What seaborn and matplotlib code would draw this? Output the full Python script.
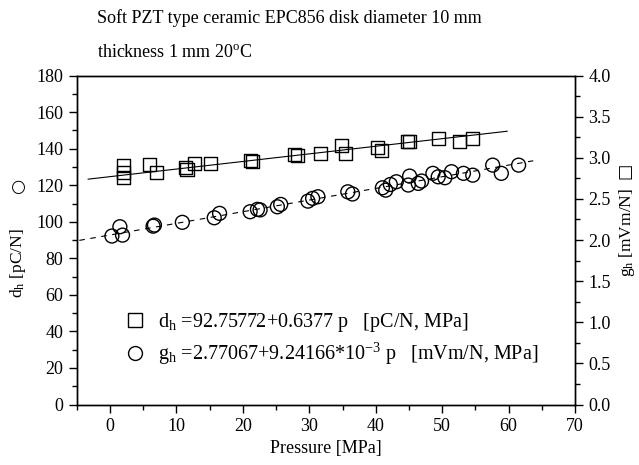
import numpy as np
import pandas as pd
import matplotlib
matplotlib.use("Agg")
import matplotlib.pyplot as plt
from matplotlib.lines import Line2D
from matplotlib.ticker import MultipleLocator
import seaborn as sns

# ---- data ----
# g_h (squares, right axis)
sq_p = [2.1, 2.1, 2.0, 6.0, 7.0, 11.4, 11.6, 12.8, 15.2, 21.2, 21.5, 27.8, 28.2,
        31.7, 34.8, 35.5, 40.2, 40.8, 44.8, 45.1, 49.5, 52.6, 54.5]
sq_g = [2.909, 2.760, 2.816, 2.920, 2.816, 2.880, 2.860, 2.936, 2.929, 2.969, 2.960,
        3.038, 3.030, 3.051, 3.151, 3.058, 3.131, 3.091, 3.200, 3.195, 3.240, 3.200, 3.240]
# d_h (circles, left axis)
ci_p = [0.3, 1.5, 1.9, 6.5, 6.7, 10.9, 15.7, 16.5, 21.1, 22.2, 22.6, 25.2, 25.7,
        29.8, 30.5, 31.3, 35.8, 36.5, 41.0, 41.5, 42.2, 43.1, 44.9, 45.1, 46.4, 46.9,
        48.6, 49.4, 50.4, 51.4, 53.2, 54.6, 57.6, 58.9, 61.5]
ci_d = [92.2, 97.3, 92.7, 97.6, 98.2, 99.7, 102.2, 104.6, 105.5, 106.8, 106.5, 108.2,
        109.5, 111.3, 112.8, 113.7, 116.4, 115.2, 118.6, 117.3, 120.4, 121.9, 120.1,
        125.0, 121.0, 122.3, 126.5, 124.6, 124.1, 127.4, 126.5, 125.5, 131.0, 126.5, 131.0]
# fit coefficients (from the legend) and drawn ranges
dh_a, dh_b = 92.75772, 0.6377
gh_a, gh_b = 2.77067, 9.24166e-3
dh_range = [-4.6, 63.7]
gh_range = [-3.3, 59.8]

title1 = "Soft PZT type ceramic EPC856 disk diameter 10 mm"
title2 = "thickness 1 mm 20$\\mathregular{^o}$C"
leg1 = "$\\mathregular{d_h}$ =92.75772+0.6377 p   [pC/N, MPa]"
leg2 = "$\\mathregular{g_h}$ =2.77067+9.24166*10$\\mathregular{^{-3}}$ p   [mVm/N, MPa]"

sns.set_theme(style="ticks")
plt.rcParams["font.family"] = ["Liberation Serif", "DejaVu Sans"]
plt.rcParams["mathtext.fontset"] = "custom"
plt.rcParams["mathtext.rm"] = "Liberation Serif"
plt.rcParams["text.color"] = "black"
plt.rcParams["axes.labelcolor"] = "black"
FS = 12.5

fig = plt.figure(figsize=(6.39, 4.65), dpi=100)
ax = fig.add_axes([0.120, 0.130, 0.780, 0.7075])
ax2 = ax.twinx()

df_c = pd.DataFrame({"p": ci_p, "d": ci_d})
df_s = pd.DataFrame({"p": sq_p, "g": sq_g})

sns.scatterplot(data=df_c, x="p", y="d", ax=ax, marker="o", s=100,
                facecolor="none", edgecolor="black", linewidth=1.0, zorder=3)
sns.scatterplot(data=df_s, x="p", y="g", ax=ax2, marker="s", s=88,
                facecolor="none", edgecolor="black", linewidth=1.0, zorder=3)

xd = np.array(dh_range)
sns.lineplot(x=xd, y=dh_a + dh_b * xd, ax=ax, color="black", linewidth=0.8,
             dashes=False, linestyle=(0, (5, 5)))
xg = np.array(gh_range)
sns.lineplot(x=xg, y=gh_a + gh_b * xg, ax=ax2, color="black", linewidth=0.8)

ax.set_xlim(-5, 70)
ax.set_ylim(0, 180)
ax2.set_ylim(0, 4.0)
ax.xaxis.set_major_locator(MultipleLocator(10))
ax.xaxis.set_minor_locator(MultipleLocator(5))
ax.yaxis.set_major_locator(MultipleLocator(20))
ax.yaxis.set_minor_locator(MultipleLocator(10))
ax2.yaxis.set_major_locator(MultipleLocator(0.5))
ax2.yaxis.set_minor_locator(MultipleLocator(0.25))
ax2.yaxis.set_major_formatter(plt.FormatStrFormatter("%.1f"))

for a in (ax, ax2):
    for s in a.spines.values():
        s.set_visible(True)
        s.set_linewidth(1.0)
        s.set_color("black")
    a.tick_params(which="major", length=6, width=1.0, direction="out",
                  labelsize=FS + 0.5, color="black", labelcolor="black")
    a.tick_params(which="minor", length=3.5, width=1.0, direction="out", color="black")
ax.tick_params(axis="x", top=False, which="both", pad=4)
ax.tick_params(axis="y", right=False, which="both")
ax2.tick_params(axis="y", left=False, which="both")

ax.set_xlabel("Pressure [MPa]", fontsize=FS + 0.5, color="black", labelpad=3)
ax.set_ylabel("")
ax2.set_ylabel("")

fig.text(0.028, 0.434, "$\\mathregular{d_h}$ [pC/N]", rotation=90, fontsize=FS,
         ha="center", va="center")
fig.text(0.028, 0.602, "○", rotation=90, fontsize=FS, ha="center", va="center",
         family=["DejaVu Sans"])
fig.text(0.981, 0.50, "$\\mathregular{g_h}$ [mVm/N]", rotation=90, fontsize=FS,
         ha="center", va="center")
fig.text(0.978, 0.632, "□", rotation=90, fontsize=FS, ha="center", va="center",
         family=["DejaVu Sans"])

fig.text(0.152, 0.961, title1, fontsize=FS + 0.5, ha="left", va="center")
fig.text(0.152, 0.888, title2, fontsize=FS + 0.5, ha="left", va="center")

handles = [
    Line2D([], [], marker="s", ls="none", mfc="none", mec="black", mew=1.0, ms=9.4),
    Line2D([], [], marker="o", ls="none", mfc="none", mec="black", mew=1.0, ms=10.0),
]
ax.legend(handles, [leg1, leg2], loc="lower left", bbox_to_anchor=(0.08, 0.09),
          frameon=False, fontsize=FS + 2.0, handlelength=1.0, handletextpad=0.65,
          labelspacing=0.35, borderaxespad=0)

fig.savefig("out.png", dpi=100)
